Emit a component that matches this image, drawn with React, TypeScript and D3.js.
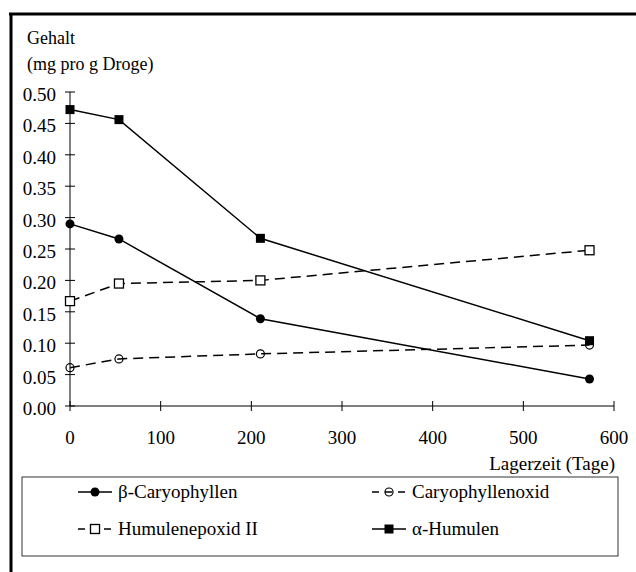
import React from "react";
import * as d3 from "d3";

const days = [0, 54, 210, 573];
const betaCaryophyllen = [0.29, 0.266, 0.139, 0.043];
const caryophyllenoxid = [0.061, 0.075, 0.083, 0.097];
const humulenepoxid = [0.167, 0.195, 0.2, 0.248];
const alphaHumulen = [0.472, 0.456, 0.267, 0.104];
const xTicks = [0, 100, 200, 300, 400, 500, 600];
const yTicks = [0, 0.05, 0.1, 0.15, 0.2, 0.25, 0.3, 0.35, 0.4, 0.45, 0.5];

type Series = { name: string; values: number[]; dashed: boolean; marker: "dot" | "ring" | "sq" | "osq" };
const series: Series[] = [
  { name: "β-Caryophyllen", values: betaCaryophyllen, dashed: false, marker: "dot" },
  { name: "Caryophyllenoxid", values: caryophyllenoxid, dashed: true, marker: "ring" },
  { name: "Humulenepoxid II", values: humulenepoxid, dashed: true, marker: "osq" },
  { name: "α-Humulen", values: alphaHumulen, dashed: false, marker: "sq" },
];

const FONT = "Liberation Serif, DejaVu Serif, serif";

function Marker({ type, x, y }: { type: string; x: number; y: number }) {
  if (type === "dot") return <circle cx={x} cy={y} r={4.5} fill="#000" />;
  if (type === "ring") return <circle cx={x} cy={y} r={4} fill="none" stroke="#000" strokeWidth={1.2} />;
  if (type === "sq") return <rect x={x - 4.5} y={y - 4.5} width={9} height={9} fill="#000" />;
  return <rect x={x - 4.5} y={y - 4.5} width={9} height={9} fill="#fff" stroke="#000" strokeWidth={1.3} />;
}

export default function App() {
  const W = 636, H = 572;
  const x = d3.scaleLinear().domain([0, 600]).range([70, 614]);
  const y = d3.scaleLinear().domain([0, 0.5]).range([406, 92]);
  const line = d3.line<[number, number]>().x((d) => x(d[0])).y((d) => y(d[1]));

  const legendItems = [
    { s: series[0], lx: 78, ly: 492 },
    { s: series[1], lx: 372, ly: 492 },
    { s: series[2], lx: 78, ly: 529 },
    { s: series[3], lx: 372, ly: 529 },
  ];
  const ts = { fontFamily: FONT };

  return (
    <svg width={W} height={H} style={{ position: "absolute", left: 0, top: 0, background: "#fff", fontFamily: FONT }}>
      <rect x={0} y={0} width={W} height={H} fill="#fff" />
      {/* frame */}
      <line x1={9} y1={14} x2={636} y2={14} stroke="#000" strokeWidth={3} />
      <line x1={11} y1={13} x2={11} y2={572} stroke="#000" strokeWidth={3} />

      {/* y title */}
      <text x={27} y={44} fontSize={18} fill="#000" style={ts}>Gehalt</text>
      <text x={27} y={70} fontSize={18} fill="#000" style={ts}>(mg pro g Droge)</text>

      {/* axes */}
      <line x1={x(0)} y1={y(0.5)} x2={x(0)} y2={y(0)} stroke="#000" strokeWidth={1} />
      <line x1={x(0)} y1={y(0)} x2={x(600)} y2={y(0)} stroke="#000" strokeWidth={1} />
      {yTicks.map((t) => (
        <g key={"y" + t}>
          <line x1={x(0) - 5} x2={x(0) + 5} y1={y(t)} y2={y(t)} stroke="#000" strokeWidth={1} />
          <text x={56} y={y(t) + 9} fontSize={19} textAnchor="end" fill="#000" style={ts}>{t.toFixed(2)}</text>
        </g>
      ))}
      {xTicks.map((t) => (
        <g key={"x" + t}>
          <line x1={x(t)} x2={x(t)} y1={y(0) - 5} y2={y(0) + 5} stroke="#000" strokeWidth={1} />
          <text x={x(t)} y={444} fontSize={19} textAnchor="middle" fill="#000" style={ts}>{t}</text>
        </g>
      ))}
      <text x={615} y={470} fontSize={19} textAnchor="end" fill="#000" style={ts}>Lagerzeit (Tage)</text>

      {/* series */}
      {series.map((s) => {
        const pts = days.map((d, i) => [d, s.values[i]] as [number, number]);
        return (
          <g key={s.name}>
            <path d={line(pts) || ""} fill="none" stroke="#000" strokeWidth={1.5} strokeDasharray={s.dashed ? "10,6" : undefined} />
            {pts.map((p, i) => (
              <Marker key={i} type={s.marker} x={x(p[0])} y={y(p[1])} />
            ))}
          </g>
        );
      })}

      {/* legend */}
      <rect x={22} y={477} width={596} height={79} fill="none" stroke="#000" strokeWidth={0.8} />
      {legendItems.map(({ s, lx, ly }) => (
        <g key={"l" + s.name}>
          <line x1={lx} x2={lx + 34} y1={ly} y2={ly} stroke="#000" strokeWidth={1.3} strokeDasharray={s.dashed ? "7,6" : undefined} />
          <Marker type={s.marker} x={lx + 17} y={ly} />
          <text x={lx + 40} y={ly + 6} fontSize={19} fill="#000" style={ts}>{s.name}</text>
        </g>
      ))}
    </svg>
  );
}
